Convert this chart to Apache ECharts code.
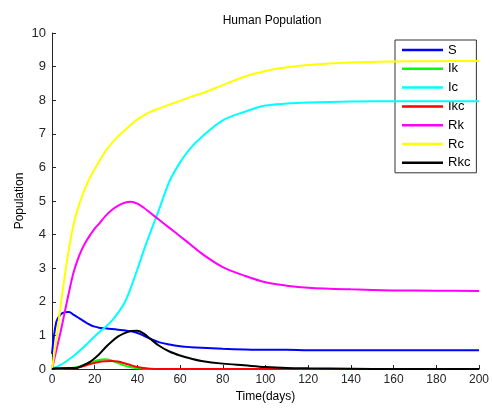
<!DOCTYPE html>
<html><head><meta charset="utf-8">
<script src="https://cdn.jsdelivr.net/npm/echarts@6/dist/echarts.min.js"></script>
<style>html,body{margin:0;padding:0;background:#fff}#c{width:492px;height:408px}</style>
</head><body><div id="c"></div>
<script>
const T   = [0,2,4,6,8,10,12,14,16,18,20,22,25,28,31,34,37,40,43,46,50,55,60,65,70,80,90,100,110,120,140,160,180,200];
const S   = [0.45,1.4,1.62,1.69,1.7,1.62,1.54,1.46,1.38,1.31,1.26,1.23,1.21,1.19,1.17,1.15,1.12,1.07,0.99,0.9,0.8,0.73,0.68,0.65,0.63,0.6,0.58,0.57,0.57,0.56,0.56,0.56,0.56,0.56];
const Ik  = [0,0.01,0.01,0.02,0.03,0.04,0.06,0.1,0.14,0.19,0.23,0.27,0.29,0.25,0.18,0.1,0.05,0.02,0.01,0,0,0,0,0,0,0,0,0,0,0,0,0,0,0];
const Ic  = [0,0.06,0.12,0.2,0.29,0.38,0.49,0.6,0.72,0.85,0.97,1.09,1.25,1.43,1.68,1.97,2.43,2.97,3.53,4.05,4.72,5.58,6.15,6.58,6.9,7.4,7.65,7.84,7.9,7.93,7.96,7.97,7.97,7.97];
const Ikc = [0,0.01,0.01,0.02,0.02,0.03,0.04,0.07,0.11,0.15,0.18,0.21,0.23,0.24,0.22,0.17,0.11,0.06,0.03,0.01,0,0,0,0,0,0,0,0,0,0,0,0,0,0];
const Rk  = [0,0.55,1.1,1.7,2.3,2.85,3.25,3.56,3.8,4.0,4.18,4.32,4.55,4.73,4.86,4.95,4.98,4.92,4.8,4.65,4.45,4.2,3.95,3.7,3.44,3.03,2.78,2.58,2.48,2.42,2.37,2.34,2.33,2.32];
const Rc  = [0,0.87,1.85,2.78,3.6,4.27,4.75,5.13,5.45,5.72,5.95,6.17,6.48,6.72,6.93,7.1,7.27,7.43,7.55,7.65,7.75,7.87,7.98,8.1,8.2,8.45,8.7,8.87,8.98,9.05,9.12,9.15,9.16,9.17];
const Rkc = [0,0.02,0.02,0.02,0.03,0.03,0.04,0.09,0.15,0.22,0.32,0.43,0.64,0.82,0.97,1.07,1.13,1.14,1.05,0.9,0.7,0.52,0.4,0.31,0.24,0.16,0.11,0.06,0.03,0.02,0.01,0,0,0];
const names  = ['S','Ik','Ic','Ikc','Rk','Rc','Rkc'];
const values = [S,Ik,Ic,Ikc,Rk,Rc,Rkc];
const colors = ['#0000ff','#00ff00','#00ffff','#ff0000','#ff00ff','#ffff00','#000000'];
const xTicks = {min:0,max:200,interval:20};
const yTicks = {min:0,max:10,interval:1};
const FONT = 'Liberation Sans';
const chart = echarts.init(document.getElementById('c'), null, {renderer:'canvas'});
chart.setOption({
  animation:false,
  backgroundColor:'#fff',
  color:colors,
  title:{text:'Human Population',left:267,textAlign:'center',top:10,
    textStyle:{fontFamily:FONT,fontSize:12,fontWeight:'normal',color:'#000'}},
  grid:{left:52,right:10,top:33,bottom:39,containLabel:false},
  legend:{
    orient:'vertical',left:395,top:40,
    data:names,
    icon:'rect',itemWidth:41,itemHeight:2.5,itemGap:4.8,
    padding:[3,6,3,7],
    borderColor:'#333',borderWidth:1,backgroundColor:'#fff',
    textStyle:{fontFamily:FONT,fontSize:13,color:'#000',lineHeight:14,verticalAlign:'middle'}
  },
  xAxis:{type:'value',min:xTicks.min,max:xTicks.max,interval:xTicks.interval,
    name:'Time(days)',nameLocation:'middle',nameGap:22,nameMoveOverlap:false,
    nameTextStyle:{fontFamily:FONT,fontSize:12,color:'#000'},
    axisLine:{show:true,lineStyle:{color:'#262626',width:1}},
    axisTick:{show:true,inside:true,length:4,lineStyle:{color:'#262626'}},
    axisLabel:{fontFamily:FONT,fontSize:12,color:'#262626',margin:5},
    splitLine:{show:false}},
  yAxis:{type:'value',min:yTicks.min,max:yTicks.max,interval:yTicks.interval,
    name:'Population',nameLocation:'middle',nameGap:26,nameRotate:90,nameMoveOverlap:false,
    nameTextStyle:{fontFamily:FONT,fontSize:12,color:'#000'},
    axisLine:{show:true,lineStyle:{color:'#262626',width:1}},
    axisTick:{show:true,inside:true,length:4,lineStyle:{color:'#262626'}},
    axisLabel:{fontFamily:FONT,fontSize:13,color:'#262626',margin:6},
    splitLine:{show:false}},
  series:names.map((n,i)=>({
    name:n,type:'line',showSymbol:false,symbol:'none',
    smooth:0.35,
    lineStyle:{width:2,color:colors[i]},
    itemStyle:{color:colors[i]},
    data:T.map((t,k)=>[t,values[i][k]]),
    z:2+i
  }))
});
</script></body></html>
